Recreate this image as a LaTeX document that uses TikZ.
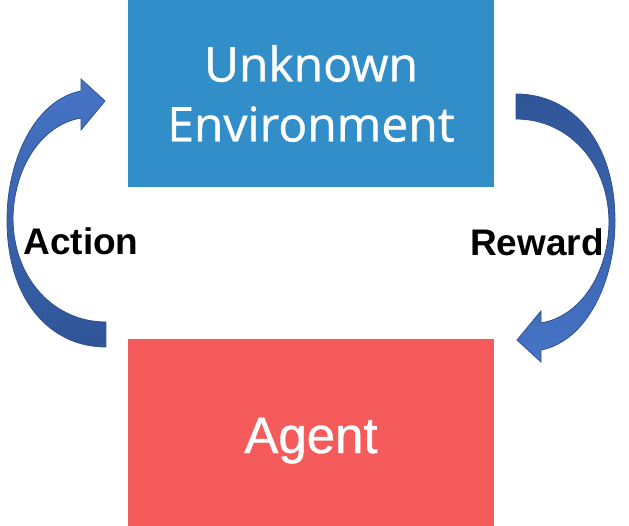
\documentclass[tikz,border=0pt]{standalone}
\usepackage{fontspec}
\setmainfont{Liberation Sans}
\newfontfamily\boxfont[FakeBold=0.8]{Open Sans}
\newfontfamily\agentfont[FakeBold=0.8]{Liberation Sans}
\usetikzlibrary{positioning}
\definecolor{envblue}{RGB}{50,142,200}
\definecolor{agentred}{RGB}{245,91,91}
\definecolor{arrowlight}{RGB}{70,116,198}
\definecolor{arrowdark}{RGB}{47,85,151}
\definecolor{arrowedge}{RGB}{47,82,143}

\begin{document}
\begin{tikzpicture}[x=1pt,y=-1pt,
    box/.style={minimum width=366pt,minimum height=187pt,inner sep=0pt,text=white,align=center},
    bandarrow/.style={draw=arrowedge,line width=0.8pt,line join=miter},
    lbl/.style={font=\fontsize{37}{40}\selectfont\bfseries,anchor=base}]
\useasboundingbox (0,0) rectangle (629,526);
\def\cx{311}
\node[box,fill=envblue,font=\boxfont\fontsize{48}{60}\selectfont] (env) at (\cx,93.5) {Unknown\\Environment};
\node[box,fill=agentred,font=\agentfont\fontsize{51}{60}\selectfont,text height=41pt,text depth=0pt] (agent) at (\cx,432.5) {Agent};
% action: from agent up to environment
\shade[bandarrow,top color=arrowlight,bottom color=arrowdark]
    (106,322) .. controls (55,322) and (14,280) .. (13,220)
    .. controls (13,170) and (40,125) .. (81,118) -- (81,130) -- (105,101) -- (81,79) -- (81,91)
    .. controls (35,100) and (7,160) .. (7,220) .. controls (7,300) and (50,347) .. (106,347) -- cycle;
% reward: from environment down to agent
\shade[bandarrow,top color=arrowdark,bottom color=arrowlight]
    (516,119) .. controls (567,119) and (608,161) .. (609,221)
    .. controls (609,271) and (582,316) .. (541,323) -- (541,311) -- (517,340) -- (541,362) -- (541,350)
    .. controls (587,341) and (615,281) .. (615,221) .. controls (615,141) and (572,94) .. (516,94) -- cycle;
\node[lbl] (action) at (81,255) {Action};
\node[lbl] (reward) at (537,256) {Reward};
\end{tikzpicture}
\end{document}
